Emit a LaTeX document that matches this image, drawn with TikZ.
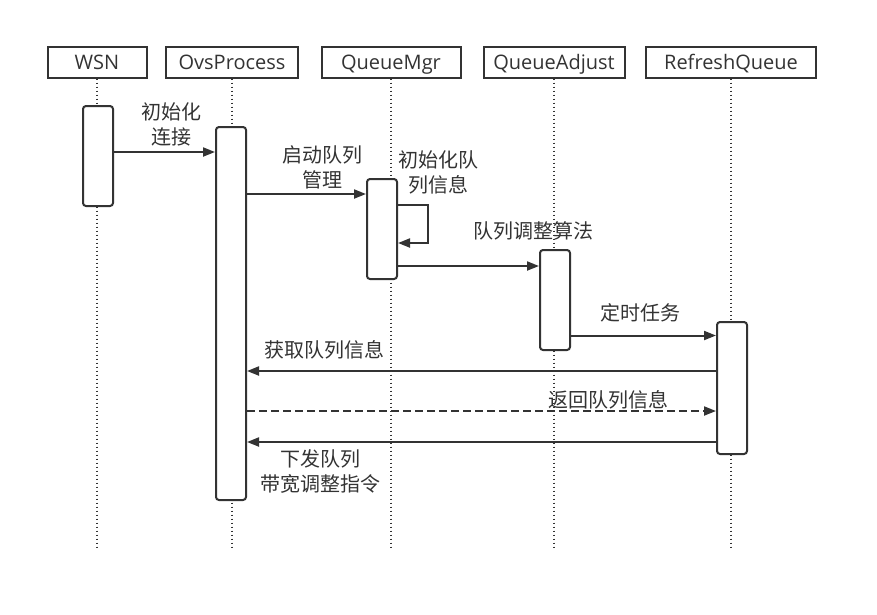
\documentclass[tikz,border=0pt]{standalone}
\usepackage{fontspec}
\setmainfont{Open Sans}
\newfontfamily\cjk{Noto Sans CJK SC}
\usepackage{tikz}
\usetikzlibrary{arrows.meta}
\definecolor{ink}{HTML}{333333}

\begin{document}
\begin{tikzpicture}[x=1pt,y=-1pt,line width=2pt,color=ink]
		\useasboundingbox (0,0) rectangle (877,614);
		\tikzstyle{every node}+=[font=\fontsize{20}{25}\selectfont,align=center,inner sep=0pt]
		\tikzstyle{head}=[draw,rectangle,minimum height=31pt,text depth=0pt,text height=14pt]
		\tikzstyle{act}=[draw,rectangle,rounded corners=3pt,fill=white,minimum width=30pt]
		\tikzstyle{life}=[line width=1.6pt,dash pattern=on 1.6pt off 2.4pt]
		\tikzstyle{msg}=[-{Triangle[length=12pt,width=9pt]}]
		\tikzstyle{lbl}=[font=\cjk\fontsize{20}{25}\selectfont]
		% participants
		\node[head,minimum width=99pt] (wsn) at (97,62) {WSN};
		\node[head,minimum width=132pt] (ovs) at (232,62) {OvsProcess};
		\node[head,minimum width=139pt] (mgr) at (391,62) {QueueMgr};
		\node[head,minimum width=141pt] (adj) at (554,62) {QueueAdjust};
		\node[head,minimum width=170pt] (ref) at (731,62) {RefreshQueue};
		% lifelines
		\coordinate (end) at (0,549);
		\draw[life] (wsn.south) -- (wsn |- end);
		\draw[life] (ovs.south) -- (ovs |- end);
		\draw[life] (mgr.south) -- (mgr |- end);
		\draw[life] (adj.south) -- (adj |- end);
		\draw[life] (ref.south) -- (ref |- end);
		% activations
		\node[act,minimum height=100pt] (wsnact) at (98,156) {};
		\node[act,minimum height=373pt] (ovsact) at (231,313.5) {};
		\node[act,minimum height=100pt] (mgract) at (382,229) {};
		\node[act,minimum height=100pt] (adjact) at (555,300) {};
		\node[act,minimum height=132pt] (refact) at (732,388) {};
		% messages
		\coordinate (m1) at (0,152);
		\coordinate (m2) at (0,194);
		\coordinate (s1) at (0,205);
		\coordinate (s2) at (0,243);
		\coordinate (m3) at (0,266);
		\coordinate (m4) at (0,335.5);
		\coordinate (m5) at (0,371);
		\coordinate (m6) at (0,411);
		\coordinate (m7) at (0,442);
		\draw[msg] (wsnact.east |- m1) -- (ovsact.west |- m1);
		\draw[msg] (ovsact.east |- m2) -- (mgract.west |- m2);
		\draw[msg] (mgract.east |- s1) -- ++(30,0) |- (mgract.east |- s2);
		\draw[msg] (mgract.east |- m3) -- (adjact.west |- m3);
		\draw[msg] (adjact.east |- m4) -- (refact.west |- m4);
		\draw[msg] (refact.west |- m5) -- (ovsact.east |- m5);
		\draw[msg,dash pattern=on 8pt off 4pt] (ovsact.east |- m6) -- (refact.west |- m6);
		\draw[msg] (refact.west |- m7) -- (ovsact.east |- m7);
		% labels
		\node[lbl] (l1) at (171,124) {初始化\\连接};
		\node[lbl] (l2) at (322,167) {启动队列\\管理};
		\node[lbl] (l3) at (438,172) {初始化队\\列信息};
		\node[lbl] (l4) at (533,231) {队列调整算法};
		\node[lbl] (l5) at (640,313) {定时任务};
		\node[lbl] (l6) at (324,349.5) {获取队列信息};
		\node[lbl] (l7) at (608,399.5) {返回队列信息};
		\node[lbl] (l8) at (320,471) {下发队列\\带宽调整指令};
	\end{tikzpicture}
\end{document}
